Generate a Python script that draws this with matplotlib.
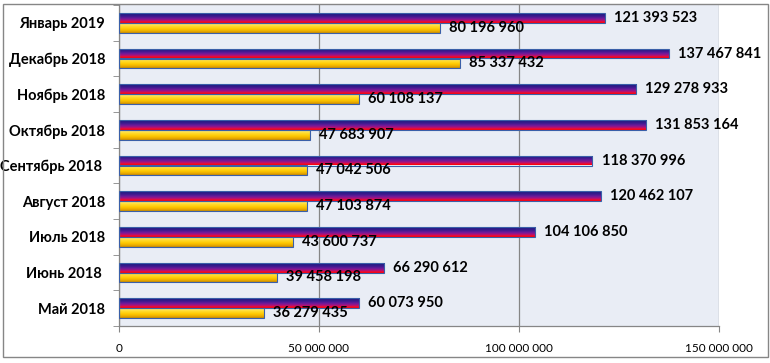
import numpy as np
import matplotlib
matplotlib.use("Agg")
import matplotlib.pyplot as plt
from matplotlib.colors import LinearSegmentedColormap
from matplotlib.patches import Rectangle
from matplotlib.ticker import FuncFormatter, FixedLocator

categories = ["Январь 2019", "Декабрь 2018", "Ноябрь 2018", "Октябрь 2018",
              "Сентябрь 2018 ", "Август 2018", "Июль 2018", "Июнь 2018 ", "Май 2018"]
series_a = [121393523, 137467841, 129278933, 131853164, 118370996,
            120462107, 104106850, 66290612, 60073950]
series_b = [80196960, 85337432, 60108137, 47683907, 47042506,
            47103874, 43600737, 39458198, 36279435]
x_ticks = [0, 50000000, 100000000, 150000000]

plt.rcParams['font.family'] = ['Lato', 'DejaVu Sans']

W, H = 770, 363
fig = plt.figure(figsize=(W / 100, H / 100), dpi=100)
ax = fig.add_axes([119 / W, 1 - 326 / H, (719 - 119) / W, (326 - 5) / H])
ax.set_facecolor("#E9EDF5")

def fmt(v):
    return f"{int(v):,}".replace(",", " ")

y = np.arange(len(categories))
bh = 0.28
bars_a = ax.barh(y - bh / 2, series_a, height=bh, color="none",
                 edgecolor="#3A5FA8", linewidth=0.8, zorder=3)
bars_b = ax.barh(y + bh / 2, series_b, height=bh, color="none",
                 edgecolor="#3A5FA8", linewidth=0.8, zorder=3)

cmap_a = LinearSegmentedColormap.from_list(
    "a", [(0.0, "#1A1C7E"), (0.3, "#3A1A8E"), (0.55, "#701A9A"),
          (0.75, "#B01278"), (0.88, "#F00A30"), (1.0, "#FF0000")])
cmap_b = LinearSegmentedColormap.from_list(
    "b", [(0.0, "#FFF08A"), (0.3, "#FFDC30"), (0.6, "#FFC800"),
          (0.85, "#E8A800"), (1.0, "#C88A00")])
grad = np.linspace(0, 1, 64).reshape(-1, 1)

ax.set_xlim(0, 150000000)
ax.set_ylim(len(categories) - 0.5, -0.5)

for bars, cm in ((bars_a, cmap_a), (bars_b, cmap_b)):
    for p in bars:
        x0, y0 = p.get_x(), p.get_y()
        w, h = p.get_width(), p.get_height()
        im = ax.imshow(grad, cmap=cm, aspect="auto",
                       extent=(x0, x0 + w, y0 + h, y0), origin="upper",
                       zorder=2, interpolation="bilinear")
        im.set_clip_path(p)

ax.set_xlim(0, 150000000)
ax.set_ylim(len(categories) - 0.5, -0.5)

for bars, vals in ((bars_a, series_a), (bars_b, series_b)):
    for p, v in zip(bars, vals):
        ax.annotate(fmt(v), xy=(p.get_width(), p.get_y() + p.get_height() / 2),
                    xytext=(6.5, 0), textcoords="offset points",
                    ha="left", va="center", fontsize=10.5, fontweight="bold",
                    color="black", zorder=5)

ax.set_xticks(x_ticks)
ax.xaxis.set_major_formatter(FuncFormatter(lambda v, p: fmt(v)))
ax.tick_params(axis="x", labelsize=8.5, length=4, color="#868686", pad=8,
               labelcolor="black")
ax.grid(axis="x", color="#868686", linewidth=0.9, zorder=1)

ax.set_yticks(y)
ax.set_yticklabels(categories, fontsize=10.5, fontweight="bold")
ax.yaxis.set_minor_locator(FixedLocator(np.arange(-0.5, len(categories), 1)))
ax.tick_params(axis="y", which="major", length=0, pad=10)
ax.tick_params(axis="y", which="minor", length=4, color="#868686")

for s in ("top", "right"):
    ax.spines[s].set_visible(False)
for s in ("left", "bottom"):
    ax.spines[s].set_color("#868686")
    ax.spines[s].set_linewidth(0.9)
ax.set_axisbelow(True)

fig.patches.append(Rectangle((3 / W, 1 - 357 / H), (768 - 3) / W, (357 - 4) / H,
                             transform=fig.transFigure, fill=False,
                             edgecolor="#868686", linewidth=1.0))

fig.savefig("out.png", dpi=100, facecolor="white")
